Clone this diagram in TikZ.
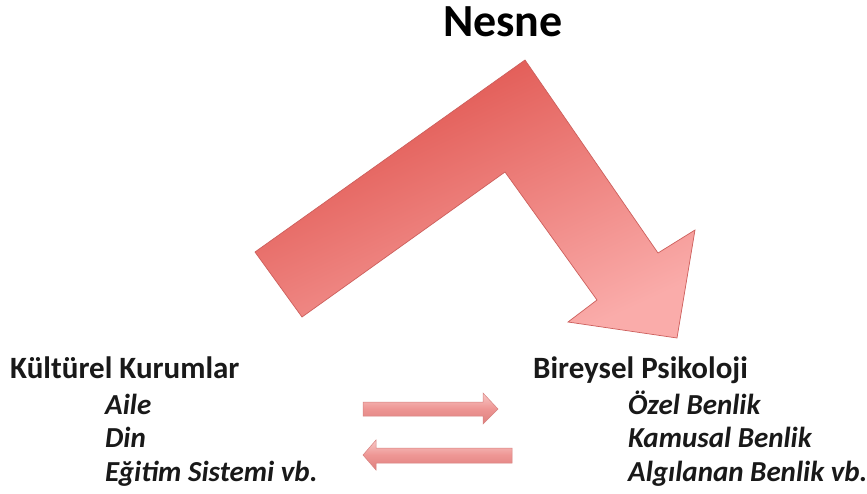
\documentclass[tikz,border=0pt]{standalone}
\usepackage{fontspec}
\setmainfont{Carlito}
\begin{document}
\begin{tikzpicture}[x=1pt,y=-1pt,
  lbl/.style={anchor=base west,inner sep=0pt,text=black!90},
  head/.style={lbl,font=\bfseries\fontsize{31}{31}\selectfont},
  item/.style={lbl,font=\bfseries\itshape\fontsize{29}{29}\selectfont},
  bigarrow/.style={left color=bigdark,right color=biglight,shading angle=25,
    draw=bigedge,line width=0.7pt,line join=miter},
  thinarrow/.style={top color=thintop,bottom color=thinbot,middle color=thinmid,
    draw=thinedge,line width=0.5pt}]
\definecolor{bigdark}{RGB}{222,78,72}
\definecolor{biglight}{RGB}{250,172,170}
\definecolor{bigedge}{RGB}{205,95,92}
\definecolor{thintop}{RGB}{248,200,198}
\definecolor{thinmid}{RGB}{238,150,148}
\definecolor{thinbot}{RGB}{222,128,126}
\definecolor{thinedge}{RGB}{215,130,128}
\useasboundingbox[fill=white] (0,0) rectangle (867,493);

% title
\node[anchor=base,inner sep=0pt,font=\bfseries\fontsize{46}{46}\selectfont] (nesne) at (503,36) {Nesne};

% bent arrow
\shade[bigarrow] (255,252) coordinate (tailtop) -- (525,60) coordinate (peak)
  -- (658,253) -- (695,230) -- (677,338) coordinate (tip) -- (568,322)
  -- (597,300) -- (505,172) coordinate (bend) -- (302,317) coordinate (tailbot) -- cycle;

% left column
\node[head] (kultur) at (10,378) {Kültürel Kurumlar};
\node[item] (aile) at (105,414) {Aile};
\node[item] (din) at (105,447) {Din};
\node[item] (egitim) at (105,481) {Eğitim Sistemi vb.};

% right column
\node[head] (birey) at (533,378) {Bireysel Psikoloji};
\node[item] (ozel) at (628,414) {Özel Benlik};
\node[item] (kamusal) at (628,447) {Kamusal Benlik};
\node[item] (algi) at (628,481) {Algılanan Benlik vb.};

% exchange arrows
\shade[thinarrow] (363,402) -- (483,402) -- (483,393) -- (498,409)
  -- (483,424) -- (483,416) -- (363,416) -- cycle;
\shade[thinarrow] (512,448) -- (376,448) -- (376,440) -- (363,455)
  -- (376,470) -- (376,463) -- (512,463) -- cycle;
\end{tikzpicture}
\end{document}
